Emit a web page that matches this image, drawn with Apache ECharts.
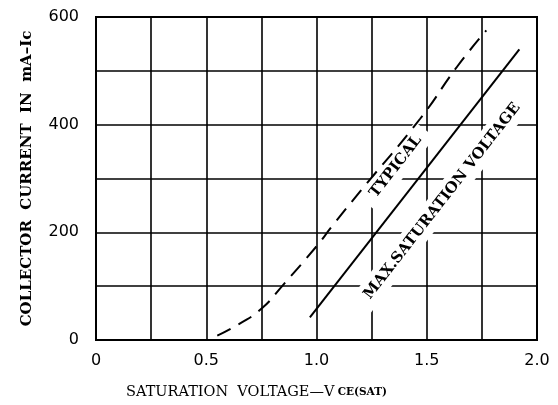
<!DOCTYPE html>
<html>
<head>
<meta charset="utf-8">
<script src="https://cdn.jsdelivr.net/npm/echarts@6/dist/echarts.min.js"></script>
<style>
  html, body { margin: 0; padding: 0; background: #fff; }
  #chart { width: 558px; height: 405px; }
</style>
</head>
<body>
<div id="chart"></div>
<script>
// data (V, mA)
var typicalCurve = [[0.55, 8], [0.65, 30], [0.75, 58], [0.85, 103], [1.0, 174], [1.07, 211], [1.2, 277], [1.47, 411], [1.64, 509], [1.77, 575]];
var maxSatCurve = [[0.97, 42], [1.92, 540]];
var xTicks = [0, 0.5, 1.0, 1.5, 2.0];
var yTicks = [0, 200, 400, 600];
var curveLabels = [
  { text: 'TYPICAL', at: [1.36, 322] },
  { text: 'MAX.SATURATION VOLTAGE', at: [1.57, 258] }
];

var serif = '"DejaVu Serif", serif';
var sans = '"DejaVu Sans", sans-serif';

var myChart = echarts.init(document.getElementById('chart'));
var option = {
  animation: false,
  backgroundColor: '#fff',
  grid: { left: 96, right: 21, top: 17, bottom: 62, show: true, borderColor: '#000', borderWidth: 2 },
  xAxis: {
    type: 'value', min: 0, max: 2, interval: 0.25,
    name: '{a|SATURATION  VOLTAGE—V} {b|CE(SAT)}',
    nameLocation: 'middle', nameGap: 45,
    nameTextStyle: {
      padding: [0, 120, 0, 0],
      rich: {
        a: { fontFamily: serif, fontSize: 14.5, color: '#000' },
        b: { fontFamily: serif, fontSize: 10.5, color: '#000', fontWeight: 'bold' }
      }
    },
    axisLine: { show: false },
    axisTick: { show: false },
    splitLine: { show: true, lineStyle: { color: '#000', width: 1.6 } },
    axisLabel: {
      margin: 13, color: '#000', fontFamily: sans, fontSize: 16,
      formatter: function (v) {
        for (var i = 0; i < xTicks.length; i++) {
          if (Math.abs(xTicks[i] - v) < 1e-6) return v === 0 ? '0' : v.toFixed(1);
        }
        return '';
      }
    }
  },
  yAxis: {
    type: 'value', min: 0, max: 600, interval: 100,
    name: 'COLLECTOR  CURRENT  IN  mA–Ic',
    nameLocation: 'middle', nameGap: 61,
    nameTextStyle: { fontFamily: serif, fontSize: 15, fontWeight: 'bold', color: '#000' },
    axisLine: { show: false },
    axisTick: { show: false },
    splitLine: { show: true, lineStyle: { color: '#000', width: 1.6 } },
    axisLabel: {
      margin: 17, color: '#000', fontFamily: sans, fontSize: 16,
      formatter: function (v) { return yTicks.indexOf(v) >= 0 ? String(v) : ''; }
    }
  },
  series: [
    {
      name: 'TYPICAL', type: 'line', data: typicalCurve, smooth: true, symbol: 'none', z: 3,
      lineStyle: { color: '#000', width: 2, type: [15, 9] }
    },
    {
      name: 'MAX.SATURATION VOLTAGE', type: 'line', data: maxSatCurve, symbol: 'none', z: 3,
      lineStyle: { color: '#000', width: 2 }
    }
  ]
};
myChart.setOption(option);

// labels along the curves, placed from data coords
var angle = 52 * Math.PI / 180;
myChart.setOption({
  graphic: curveLabels.map(function (l) {
    var p = myChart.convertToPixel({ gridIndex: 0 }, l.at);
    return {
      type: 'text', x: p[0], y: p[1], rotation: angle, z: 1,
      style: {
        text: l.text, fill: '#000', font: 'bold 15px ' + serif,
        align: 'center', verticalAlign: 'middle',
        backgroundColor: '#fff', padding: [5, 10]
      }
    };
  })
});
</script>
</body>
</html>
